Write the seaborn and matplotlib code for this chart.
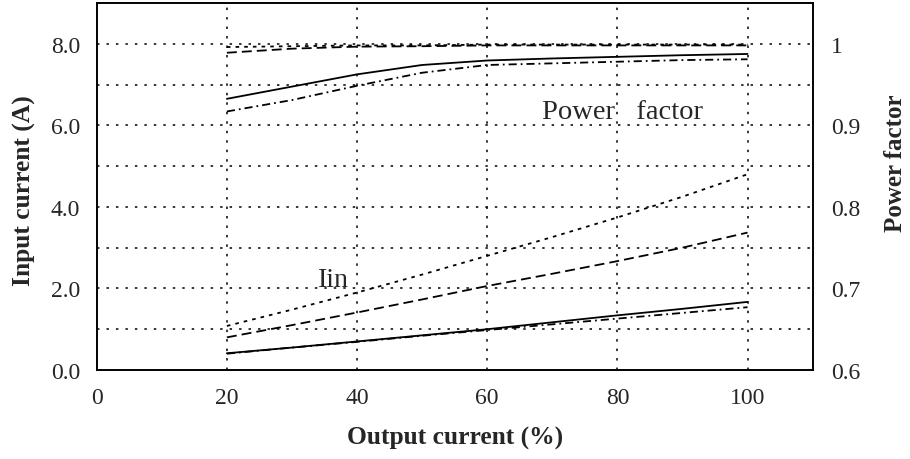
import matplotlib
matplotlib.use("Agg")
import matplotlib.pyplot as plt
import pandas as pd
import seaborn as sns

# Output current (% of rated load)
load = [20, 30, 40, 50, 60, 70, 80, 90, 100]

# Input current (A) for the four operating conditions
iin_dot = [1.08, 1.48, 1.90, 2.34, 2.80, 3.26, 3.74, 4.25, 4.80]
iin_dash = [0.80, 1.10, 1.41, 1.73, 2.06, 2.36, 2.67, 3.00, 3.37]
iin_solid = [0.41, 0.55, 0.70, 0.85, 1.00, 1.17, 1.34, 1.50, 1.67]
iin_dashdot = [0.40, 0.55, 0.69, 0.84, 0.98, 1.12, 1.26, 1.40, 1.54]

# Power factor for the same four conditions
pf_dot = [0.996, 0.997, 0.998, 0.998, 0.999, 0.999, 0.999, 0.999, 0.999]
pf_dash = [0.989, 0.994, 0.9965, 0.997, 0.998, 0.998, 0.998, 0.998, 0.998]
pf_solid = [0.9325, 0.9475, 0.9625, 0.974, 0.9795, 0.982, 0.984, 0.986, 0.9875]
pf_dashdot = [0.917, 0.931, 0.9485, 0.9645, 0.974, 0.976, 0.978, 0.980, 0.981]

curves = ["dot", "dash", "solid", "dashdot"]

left_ticks = [0, 1, 2, 3, 4, 5, 6, 7, 8]
left_labels = ["0.0", "", "2.0", "", "4.0", "", "6.0", "", "8.0"]
right_ticks = [0.6, 0.7, 0.8, 0.9, 1.0]
right_labels = ["0.6", "0.7", "0.8", "0.9", "1"]
x_ticks = [0, 20, 40, 60, 80, 100]


def long_form(values_by_curve):
    rows = []
    for name, vals in zip(curves, values_by_curve):
        for x, v in zip(load, vals):
            rows.append({"load": x, "value": v, "curve": name})
    return pd.DataFrame(rows)


df_iin = long_form([iin_dot, iin_dash, iin_solid, iin_dashdot])
df_pf = long_form([pf_dot, pf_dash, pf_solid, pf_dashdot])

dash_map = {
    "dot": (2.0, 2.8),
    "dash": (5.5, 2.8),
    "solid": "",
    "dashdot": (4.5, 2.2, 1.0, 2.2),
}

sns.set_style("white")
plt.rcParams["font.family"] = ["Liberation Serif", "DejaVu Serif"]
plt.rcParams["axes.edgecolor"] = "black"

fig = plt.figure(figsize=(9.1, 4.6), dpi=100)
ax = fig.add_axes([0.1063, 0.1935, 0.7867, 0.7978])
ax2 = ax.twinx()

sns.lineplot(data=df_iin, x="load", y="value", style="curve", dashes=dash_map,
             color="black", linewidth=1.3, legend=False, errorbar=None, ax=ax)
sns.lineplot(data=df_pf, x="load", y="value", style="curve", dashes=dash_map,
             color="black", linewidth=1.3, legend=False, errorbar=None, ax=ax2)

ax.set_xlim(0, 110)
ax.set_ylim(0, 9)
ax2.set_ylim(0.6, 1.05)

ax.set_xticks(x_ticks)
ax.set_xticklabels([str(t) for t in x_ticks])
ax.set_yticks(left_ticks)
ax.set_yticklabels(left_labels)
ax2.set_yticks(right_ticks)
ax2.set_yticklabels(right_labels)

# Dotted grid: vertical at the labelled loads, horizontal every 1 A
grid_kw = dict(color="black", linewidth=1.1, linestyle=(0, (1.6, 4.6)))
for x in x_ticks[1:]:
    ax.axvline(x, zorder=0.5, **grid_kw)
for y in left_ticks[1:]:
    ax.axhline(y, zorder=0.5, **grid_kw)

ax.tick_params(axis="x", direction="in", length=3, pad=12, labelsize=17, color="black")
ax.tick_params(axis="y", direction="in", length=0, pad=12, labelsize=17)
ax2.tick_params(axis="y", direction="in", length=0, pad=13, labelsize=17)

for a in (ax, ax2):
    for s in a.spines.values():
        s.set_linewidth(1.2)
        s.set_color("black")

ax.set_xlabel("Output current (%)", fontsize=18.4, fontweight="bold", labelpad=13)
ax.set_ylabel("Input current (A)", fontsize=18.4, fontweight="bold", va="center")
ax.yaxis.set_label_coords(-0.1016, 0.4905)
ax2.set_ylabel("Power factor", fontsize=18, fontweight="bold", va="center",
               rotation=90)
ax2.yaxis.set_label_coords(1.1155, 0.567)

ax.text(68.4, 6.19, "Power   factor", fontsize=20.5, va="baseline", ha="left")
ax.text(34.0, 2.05, "Iin", fontsize=20, va="baseline", ha="left")

fig.savefig("out.png", dpi=100, facecolor="white")
